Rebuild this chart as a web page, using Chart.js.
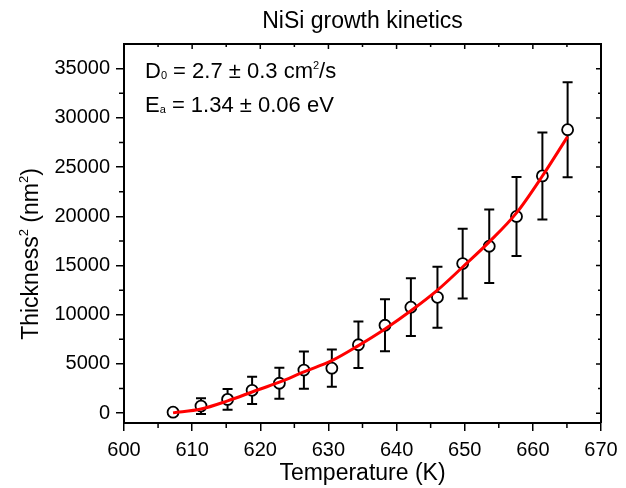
<!DOCTYPE html>
<html>
<head>
<meta charset="utf-8">
<script src="https://cdn.jsdelivr.net/npm/chart.js@4.4.1/dist/chart.umd.min.js"></script>
<style>
  body { margin: 0; background: #fff; }
  #chart { display: block; }
</style>
</head>
<body>
<canvas id="chart" width="626" height="488"></canvas>
<script>
// Measured points (temperature in K, thickness^2 in nm^2, error bar half-height)
const temps = [607.2, 611.3, 615.2, 618.8, 622.8, 626.4, 630.5, 634.4, 638.3, 642.1, 646.0, 649.7, 653.6, 657.6, 661.4, 665.1];
const thick2 = [100, 720, 1400, 2320, 3040, 4380, 4570, 6950, 8930, 10770, 11770, 15200, 16960, 19990, 24110, 28800];
const errs = [300, 800, 1050, 1380, 1570, 1890, 1890, 2370, 2650, 2940, 3100, 3540, 3730, 4010, 4420, 4820];

// Fit curve
const fitT = [607.2, 611.3, 615.2, 618.8, 622.8, 626.4, 630.5, 634.4, 638.3, 642.2, 646.0, 649.7, 653.6, 657.6, 661.4, 665.1];
const fitY = [30, 420, 1250, 2150, 3150, 4200, 5330, 6860, 8550, 10450, 12500, 14850, 17400, 20350, 24100, 28100];

// Axis ticks
const xTicks = [600, 610, 620, 630, 640, 650, 660, 670];
const xMinor = [605, 615, 625, 635, 645, 655, 665];
const yTicks = [0, 5000, 10000, 15000, 20000, 25000, 30000, 35000];
const yMinor = [2500, 7500, 12500, 17500, 22500, 27500, 32500];

const FONT = "'Liberation Sans', Arial, sans-serif";
Chart.defaults.font.family = FONT;
Chart.defaults.color = '#000';

// draws a run of text pieces [text, size, dy] starting at x
function textRun(ctx, x, y, parts) {
    parts.forEach(([txt, size, dy]) => {
        ctx.font = size + 'px ' + FONT;
        ctx.fillText(txt, x, y + dy);
        x += ctx.measureText(txt).width;
    });
}
function runWidth(ctx, parts) {
    let w = 0;
    parts.forEach(([txt, size]) => {
        ctx.font = size + 'px ' + FONT;
        w += ctx.measureText(txt).width;
    });
    return w;
}

// error bars, frame, minor ticks and the text box
const decor = {
    id: 'decor',
    beforeDatasetsDraw(chart) {
        const ctx = chart.ctx;
        const xs = chart.scales.x, ys = chart.scales.y;
        ctx.save();
        ctx.strokeStyle = '#000';
        ctx.lineWidth = 2;
        temps.forEach((t, i) => {
            const px = xs.getPixelForValue(t);
            const top = ys.getPixelForValue(thick2[i] + errs[i]);
            const bot = ys.getPixelForValue(thick2[i] - errs[i]);
            ctx.beginPath();
            ctx.moveTo(px, top); ctx.lineTo(px, bot);
            ctx.moveTo(px - 5, top); ctx.lineTo(px + 5, top);
            ctx.moveTo(px - 5, bot); ctx.lineTo(px + 5, bot);
            ctx.stroke();
        });
        ctx.restore();
    },
    afterDraw(chart) {
        const ctx = chart.ctx;
        const a = chart.chartArea;
        const xs = chart.scales.x, ys = chart.scales.y;
        ctx.save();
        ctx.strokeStyle = '#000';

        // top and right frame
        ctx.lineWidth = 2;
        ctx.beginPath();
        ctx.moveTo(a.left, a.top); ctx.lineTo(a.right, a.top); ctx.lineTo(a.right, a.bottom);
        ctx.stroke();

        ctx.lineWidth = 1.5;
        ctx.beginPath();
        // mirror major ticks (inward)
        xTicks.forEach(v => {
            const p = xs.getPixelForValue(v);
            ctx.moveTo(p, a.top); ctx.lineTo(p, a.top + 5);
        });
        yTicks.forEach(v => {
            const p = ys.getPixelForValue(v);
            ctx.moveTo(a.right, p); ctx.lineTo(a.right - 5, p);
        });
        // minor ticks
        xMinor.forEach(v => {
            const p = xs.getPixelForValue(v);
            ctx.moveTo(p, a.bottom); ctx.lineTo(p, a.bottom + 5);
            ctx.moveTo(p, a.top); ctx.lineTo(p, a.top + 3);
        });
        yMinor.forEach(v => {
            const p = ys.getPixelForValue(v);
            ctx.moveTo(a.left, p); ctx.lineTo(a.left - 5, p);
            ctx.moveTo(a.right, p); ctx.lineTo(a.right - 3, p);
        });
        ctx.stroke();

        ctx.fillStyle = '#000';
        ctx.textAlign = 'left';
        ctx.textBaseline = 'alphabetic';

        // y axis title, rotated
        const yTitle = [['Thickness', 23, 0], ['2', 13, -10], [' (nm', 23, 0], ['2', 13, -10], [')', 23, 0]];
        ctx.save();
        ctx.translate(38, 254);
        ctx.rotate(-Math.PI / 2);
        textRun(ctx, -runWidth(ctx, yTitle) / 2, 0, yTitle);
        ctx.restore();

        // fit result text
        textRun(ctx, 145, 78, [['D', 22, 0], ['0', 11, 1], [' = 2.7 \u00B1 0.3 cm', 22, 0], ['2', 11, -9], ['/s', 22, 0]]);
        textRun(ctx, 145, 112, [['E', 22, 0], ['a', 11, 1], [' = 1.34 \u00B1 0.06 eV', 22, 0]]);

        ctx.restore();
    }
};

const tickGrid = {
    drawOnChartArea: false,
    drawTicks: true,
    tickLength: 8,
    color: '#000',
    lineWidth: 1.5
};

new Chart(document.getElementById('chart'), {
    type: 'scatter',
    data: {
        datasets: [
            {
                label: 'Fit',
                type: 'line',
                data: fitT.map((t, i) => ({ x: t, y: fitY[i] })),
                borderColor: '#ff0000',
                borderWidth: 3,
                pointRadius: 0,
                cubicInterpolationMode: 'monotone',
                fill: false,
                order: 0
            },
            {
                label: 'NiSi',
                data: temps.map((t, i) => ({ x: t, y: thick2[i] })),
                pointRadius: 5.5,
                pointBackgroundColor: '#fff',
                pointBorderColor: '#000',
                pointBorderWidth: 1.8,
                order: 1
            }
        ]
    },
    options: {
        responsive: false,
        animation: false,
        layout: { padding: { left: 0, right: 25, top: 0, bottom: 0 } },
        plugins: {
            legend: { display: false },
            tooltip: { enabled: false },
            title: {
                display: true,
                text: 'NiSi growth kinetics',
                fullSize: false,
                color: '#000',
                font: { size: 23, weight: 'normal' },
                padding: { top: 8, bottom: 8.5 }
            }
        },
        scales: {
            x: {
                type: 'linear',
                min: 600,
                max: 670,
                afterBuildTicks: s => { s.ticks = xTicks.map(v => ({ value: v })); },
                afterFit: s => { s.height = 65; },
                grid: tickGrid,
                border: { color: '#000', width: 2 },
                ticks: { color: '#000', font: { size: 20 }, padding: 7, maxRotation: 0, autoSkip: false, callback: v => String(v) },
                title: { display: true, text: 'Temperature (K)', color: '#000', font: { size: 23 }, padding: { top: 0, bottom: 1 } }
            },
            y: {
                type: 'linear',
                min: -1000,
                max: 37500,
                afterBuildTicks: s => { s.ticks = yTicks.map(v => ({ value: v })); },
                afterFit: s => { s.width = 124; },
                grid: tickGrid,
                border: { color: '#000', width: 2 },
                ticks: { color: '#000', font: { size: 20 }, padding: 6, autoSkip: false, callback: v => String(v) }
            }
        }
    },
    plugins: [decor]
});
</script>
</body>
</html>
